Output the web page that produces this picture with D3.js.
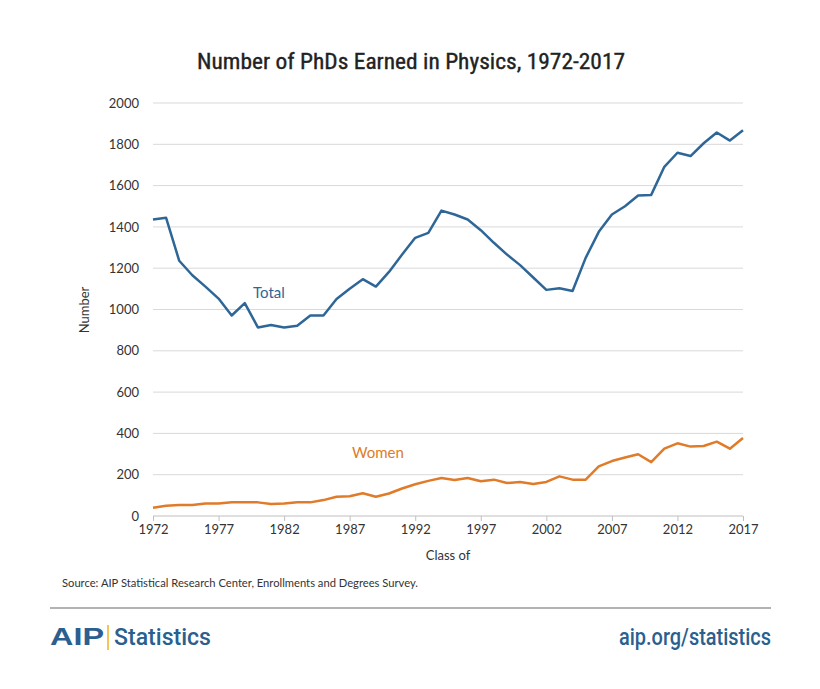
<!DOCTYPE html>
<html><head><meta charset="utf-8">
<script src="https://cdn.jsdelivr.net/npm/d3@7"></script>
<style>body{margin:0;background:#fff}svg{display:block}</style>
</head><body>
<script>
const years = d3.range(1972, 2018);
const totalValues = [1436,1444,1236,1166,1111,1053,971,1031,913,925,913,921,971,971,1051,1101,1147,1111,1182,1266,1347,1371,1479,1460,1436,1384,1323,1266,1215,1155,1095,1103,1090,1250,1376,1460,1500,1552,1555,1691,1759,1743,1805,1857,1818,1868];
const womenValues = [40,50,53,53,61,61,66,66,66,58,61,66,66,77,93,96,110,93,109,133,154,170,184,174,184,168,176,160,165,155,165,192,176,176,240,266,283,299,261,326,352,336,339,360,326,378];
const yTicks = [0,200,400,600,800,1000,1200,1400,1600,1800,2000];
const xTicks = [1972,1977,1982,1987,1992,1997,2002,2007,2012,2017];

const W = 820, H = 689;
const svg = d3.select("body").append("svg").attr("width", W).attr("height", H);
const x = d3.scaleLinear().domain([1972, 2017]).range([153, 743]);
const y = d3.scaleLinear().domain([0, 2000]).range([516, 103]);
const font = "Lato, 'Open Sans', sans-serif";
const narrow = "'Liberation Sans Narrow', 'Roboto Condensed', sans-serif";

svg.append("text").attr("x", 197).attr("y", 69)
  .attr("font-family", narrow)
  .attr("font-size", 22).attr("fill", "#222").attr("stroke", "#222").attr("stroke-width", 0.35)
  .attr("textLength", 428).attr("lengthAdjust", "spacingAndGlyphs")
  .text("Number of PhDs Earned in Physics, 1972-2017");

// gridlines
svg.append("g").selectAll("line").data(yTicks.filter(d => d > 0)).join("line")
  .attr("x1", x(1972)).attr("x2", x(2017)).attr("y1", d => y(d)).attr("y2", d => y(d))
  .attr("stroke", "#d9d9d9").attr("stroke-width", 1);

// y axis labels
const yAxis = d3.axisLeft(y).tickValues(yTicks).tickSize(0).tickPadding(14).tickFormat(d3.format("d"));
const gy = svg.append("g").attr("transform", `translate(${x(1972)},0)`).call(yAxis);
gy.select(".domain").remove();
gy.selectAll("text").attr("font-family", font).attr("font-size", 13).attr("fill", "#333");

// x axis
const xAxis = d3.axisBottom(x).tickValues(xTicks).tickSize(5).tickPadding(4).tickFormat(d3.format("d"));
const gx = svg.append("g").attr("transform", `translate(0,${y(0)})`).call(xAxis);
gx.select(".domain").attr("stroke", "#bfbfbf").attr("d", `M${x(1972)},0H${x(2017)}`);
gx.selectAll(".tick line").attr("stroke", "#bfbfbf");
gx.selectAll("text").attr("font-family", font).attr("font-size", 13).attr("fill", "#333");

svg.append("text").attr("x", 448).attr("y", 560).attr("text-anchor", "middle")
  .attr("font-family", font).attr("font-size", 13).attr("fill", "#333").text("Class of");
svg.append("text").attr("transform", "translate(89,310) rotate(-90)").attr("text-anchor", "middle")
  .attr("font-family", font).attr("font-size", 13).attr("fill", "#333").text("Number");

const line = d3.line().x((d, i) => x(years[i])).y(d => y(d));
svg.append("path").datum(totalValues).attr("d", line).attr("fill", "none")
  .attr("stroke", "#2e6797").attr("stroke-width", 2.5).attr("stroke-linejoin", "round");
svg.append("path").datum(womenValues).attr("d", line).attr("fill", "none")
  .attr("stroke", "#e07b2a").attr("stroke-width", 2.5).attr("stroke-linejoin", "round");

svg.append("text").attr("x", 253).attr("y", 298).attr("font-family", font).attr("font-size", 15)
  .attr("fill", "#2e6797").text("Total");
svg.append("text").attr("x", 352).attr("y", 458).attr("font-family", font).attr("font-size", 15)
  .attr("fill", "#e07b2a").text("Women");

svg.append("text").attr("x", 62).attr("y", 587).attr("font-family", font).attr("font-size", 11)
  .attr("fill", "#333").attr("textLength", 356).attr("lengthAdjust", "spacingAndGlyphs")
  .text("Source: AIP Statistical Research Center, Enrollments and Degrees Survey.");

svg.append("line").attr("x1", 50).attr("x2", 771).attr("y1", 608).attr("y2", 608)
  .attr("stroke", "#999").attr("stroke-width", 1.5);

const foot = "Roboto, 'Liberation Sans', sans-serif";
svg.append("text").attr("x", 50).attr("y", 645).attr("font-family", "'Liberation Sans', sans-serif")
  .attr("font-weight", "bold").attr("font-size", 24).attr("fill", "#2a5f8f")
  .attr("textLength", 54).attr("lengthAdjust", "spacingAndGlyphs").text("AIP");
svg.append("line").attr("x1", 108).attr("x2", 108).attr("y1", 625).attr("y2", 650)
  .attr("stroke", "#f0b323").attr("stroke-width", 1.5);
svg.append("text").attr("x", 114).attr("y", 645).attr("font-family", foot)
  .attr("font-weight", 500).attr("font-size", 24).attr("fill", "#2a5f8f")
  .attr("textLength", 97).attr("lengthAdjust", "spacingAndGlyphs").text("Statistics");
svg.append("text").attr("x", 619).attr("y", 645).attr("font-family", foot)
  .attr("font-weight", 500).attr("font-size", 24).attr("fill", "#2a5f8f")
  .attr("textLength", 152).attr("lengthAdjust", "spacingAndGlyphs").text("aip.org/statistics");
</script>
</body></html>
